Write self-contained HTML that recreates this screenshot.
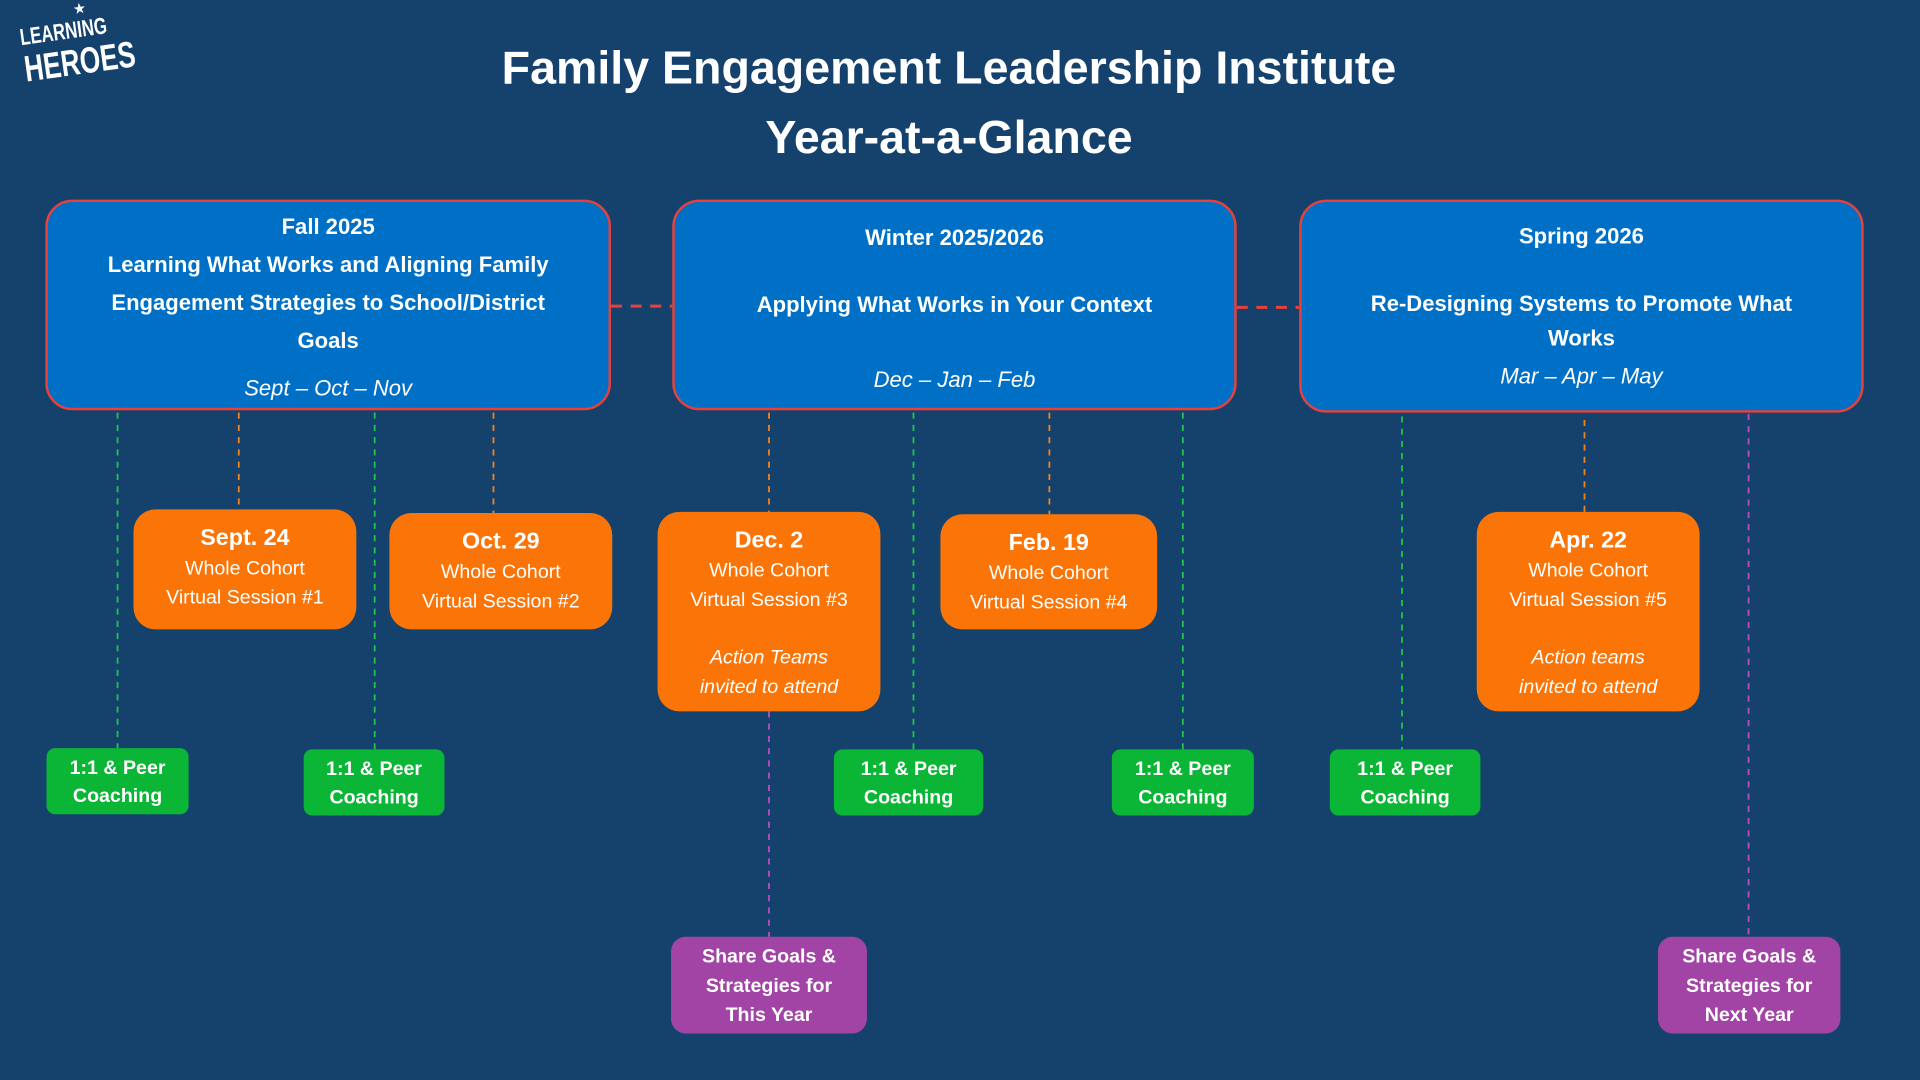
<!DOCTYPE html>
<html><head><meta charset="utf-8"><style>
html,body{margin:0;padding:0;width:1920px;height:1080px;overflow:hidden;background:#15426d}
#w{position:absolute;left:0;top:0;width:1568px;height:882px;transform:scale(1.22449);transform-origin:0 0;font-family:"Liberation Sans",sans-serif;color:#fff}
.a{position:absolute;box-sizing:border-box;text-align:center}
.s{background:#0070c6;border:2.5px solid #e8403c;border-radius:22px;font-weight:bold;font-size:18px;line-height:30px}
.s i{font-weight:normal}
.o{background:#fb7407;border-radius:18px;font-size:16px;line-height:24px}
.o b{font-size:19px}
.g{background:#0bb535;border-radius:7px;font-weight:bold;font-size:16px;line-height:23px;padding-top:5px}
.p{background:#a244a6;border-radius:12px;font-weight:bold;font-size:16px;line-height:24px;padding-top:5px}
svg{position:absolute;left:0;top:0}
</style></head><body><div id="w">
<svg width="1568" height="882">
<g stroke-dasharray="5,5" stroke-width="1.5" fill="none">
<line x1="499" y1="250" x2="549" y2="250" stroke="#e8403c" stroke-width="2.5" stroke-dasharray="9,7"/>
<line x1="1010" y1="251" x2="1061" y2="251" stroke="#e8403c" stroke-width="2.5" stroke-dasharray="9,7"/>
<g stroke="#1fc24a"><line x1="96" y1="337" x2="96" y2="611"/><line x1="306" y1="337" x2="306" y2="612"/><line x1="746" y1="337" x2="746" y2="612"/><line x1="966" y1="337" x2="966" y2="612"/><line x1="1145" y1="340" x2="1145" y2="612"/></g>
<g stroke="#f08020"><line x1="195" y1="337" x2="195" y2="416"/><line x1="403" y1="337" x2="403" y2="419"/><line x1="628" y1="337" x2="628" y2="418"/><line x1="857" y1="337" x2="857" y2="420"/><line x1="1294" y1="343" x2="1294" y2="418"/></g>
<g stroke="#b84cc0"><line x1="628" y1="581" x2="628" y2="765"/><line x1="1428" y1="338" x2="1428" y2="765"/></g>
</g></svg>
<div class="a" style="left:10px;top:8px;width:100px;height:70px;transform:rotate(-8deg);transform-origin:0 50%">
<div style="position:absolute;left:54px;top:0;font-size:12px">★</div>
<div style="position:absolute;left:8px;top:14px;font-weight:bold;font-size:19px;line-height:22px;transform:scaleX(0.72);transform-origin:0 0;text-align:left">LEARNING<br><span style="font-size:30px;line-height:30px">HEROES</span></div></div>
<div class="a" style="left:300px;top:28px;width:950px;font-weight:bold;font-size:38px;line-height:57px">Family Engagement Leadership Institute<br>Year-at-a-Glance</div>
<div class="a s" style="left:37px;top:163px;width:462px;height:172px;padding:5px 40px 0;line-height:31px">Fall 2025<br>Learning What Works and Aligning Family Engagement Strategies to School/District Goals<br><i style="line-height:46px">Sept – Oct – Nov</i></div>
<div class="a s" style="left:549px;top:163px;width:461px;height:172px;padding-top:14px">Winter 2025/2026<br><div style="height:25px"></div>Applying What Works in Your Context<br><div style="height:31px"></div><i>Dec – Jan – Feb</i></div>
<div class="a s" style="left:1061px;top:163px;width:461px;height:174px;padding:14px 40px 0;line-height:28px">Spring 2026<br><div style="height:27px"></div>Re-Designing Systems to Promote What Works<br><i style="line-height:34px">Mar – Apr – May</i></div>
<div class="a o" style="left:109px;top:416px;width:182px;height:98px;padding-top:12px"><b>Sept. 24</b><br>Whole Cohort<br>Virtual Session #1</div>
<div class="a o" style="left:318px;top:419px;width:182px;height:95px;padding-top:12px"><b>Oct. 29</b><br>Whole Cohort<br>Virtual Session #2</div>
<div class="a o" style="left:537px;top:418px;width:182px;height:163px;padding-top:12px"><b>Dec. 2</b><br>Whole Cohort<br>Virtual Session #3<br><div style="height:23px"></div><i>Action Teams<br>invited to attend</i></div>
<div class="a o" style="left:768px;top:420px;width:177px;height:94px;padding-top:12px"><b>Feb. 19</b><br>Whole Cohort<br>Virtual Session #4</div>
<div class="a o" style="left:1206px;top:418px;width:182px;height:163px;padding-top:12px"><b>Apr. 22</b><br>Whole Cohort<br>Virtual Session #5<br><div style="height:23px"></div><i>Action teams<br>invited to attend</i></div>
<div class="a g" style="left:38px;top:611px;width:116px;height:54px">1:1 &amp; Peer<br>Coaching</div>
<div class="a g" style="left:248px;top:612px;width:115px;height:54px">1:1 &amp; Peer<br>Coaching</div>
<div class="a g" style="left:681px;top:612px;width:122px;height:54px">1:1 &amp; Peer<br>Coaching</div>
<div class="a g" style="left:908px;top:612px;width:116px;height:54px">1:1 &amp; Peer<br>Coaching</div>
<div class="a g" style="left:1086px;top:612px;width:123px;height:54px">1:1 &amp; Peer<br>Coaching</div>
<div class="a p" style="left:548px;top:765px;width:160px;height:79px">Share Goals &amp;<br>Strategies for<br>This Year</div>
<div class="a p" style="left:1354px;top:765px;width:149px;height:79px">Share Goals &amp;<br>Strategies for<br>Next Year</div>
</div></body></html>
